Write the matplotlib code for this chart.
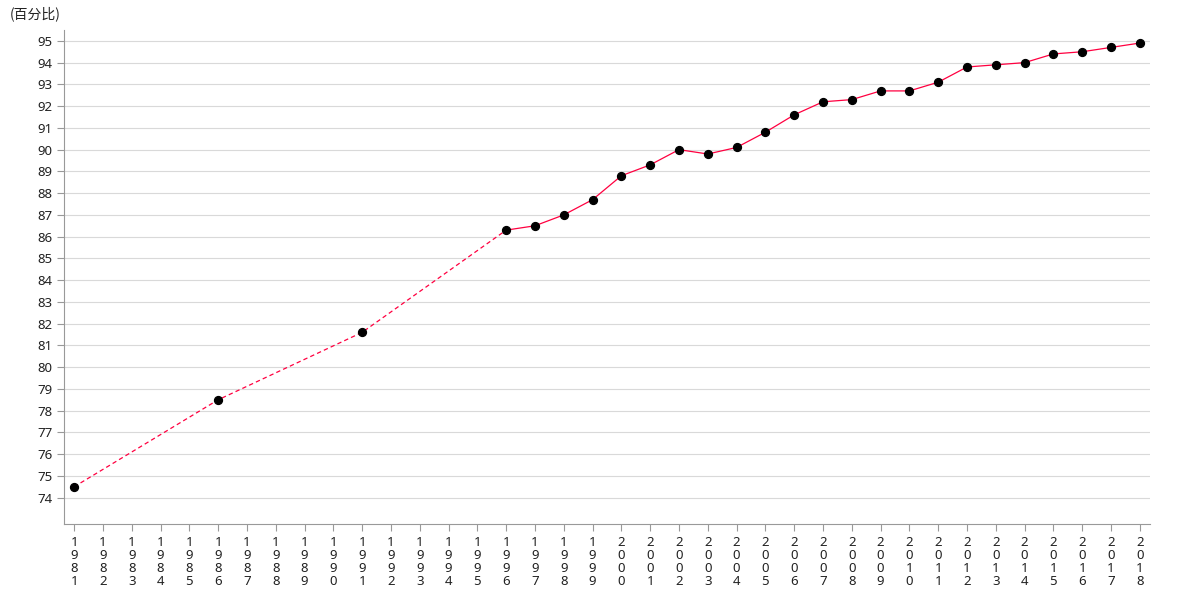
import matplotlib
matplotlib.use("Agg")
from matplotlib import pyplot as plt

plt.rcParams['font.family'] = ['Noto Sans', 'Noto Sans CJK SC', 'DejaVu Sans']

# years with data, and the percentage values
years = [1981, 1986, 1991, 1996, 1997, 1998, 1999, 2000, 2001, 2002, 2003,
         2004, 2005, 2006, 2007, 2008, 2009, 2010, 2011, 2012, 2013, 2014,
         2015, 2016, 2017, 2018]
values = [74.5, 78.5, 81.6, 86.3, 86.5, 87.0, 87.7, 88.8, 89.3, 90.0, 89.8,
          90.1, 90.8, 91.6, 92.2, 92.3, 92.7, 92.7, 93.1, 93.8, 93.9, 94.0,
          94.4, 94.5, 94.7, 94.9]
all_years = list(range(1981, 2019))
y_ticks = list(range(74, 96))

line_color = '#ff0040'

fig = plt.figure(figsize=(11.8, 6), dpi=100)
ax = fig.add_axes([0.0545, 0.127, 0.92, 0.823])

# dashed part where years are missing, solid where every year is there
split = years.index(1996)
ax.plot(years[:split + 1], values[:split + 1], color=line_color, lw=0.9,
        ls=(0, (3.5, 2.5)), zorder=2)
ax.plot(years[split:], values[split:], color=line_color, lw=0.9, zorder=2)
ax.scatter(years, values, s=32, color='black', zorder=3)

ax.set_xlim(1980.66, 2018.35)
ax.set_ylim(72.8, 95.5)
ax.set_yticks(y_ticks)
ax.set_yticklabels([str(v) for v in y_ticks], fontsize=9.5)
ax.set_xticks(all_years)
ax.set_xticklabels(['\n'.join(str(y)) for y in all_years], fontsize=9.5,
                   linespacing=1.0)
ax.grid(axis='y', color='#d9d9d9', lw=0.8)
ax.set_axisbelow(True)

for s in ['top', 'right']:
    ax.spines[s].set_visible(False)
for s in ['left', 'bottom']:
    ax.spines[s].set_color('#999999')
ax.tick_params(axis='both', colors='#999999', labelcolor='#222222',
               length=5, width=0.8)

fig.text(0.008, 0.965, '(百分比)', fontsize=10, color='#222222',
         family=['Noto Sans CJK SC', 'DejaVu Sans'], va='bottom')

fig.savefig('out.png', dpi=100)
